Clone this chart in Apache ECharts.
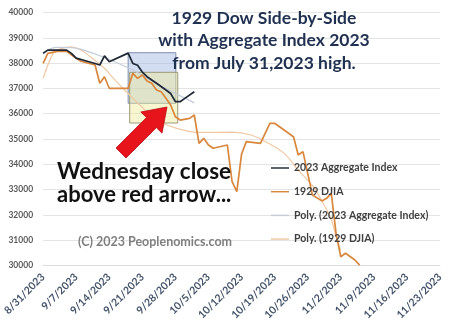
<!DOCTYPE html>
<html><head><meta charset="utf-8">
<script src="https://cdn.jsdelivr.net/npm/echarts@6/dist/echarts.min.js"></script>
<style>html,body{margin:0;padding:0;background:#fff}#c{width:450px;height:326px}</style>
</head><body><div id="c"></div>
<script>
const tickLabels = ['8/31/2023','9/7/2023','9/14/2023','9/21/2023','9/28/2023','10/5/2023','10/12/2023','10/19/2023','10/26/2023','11/2/2023','11/9/2023','11/16/2023','11/23/2023'];

const dates2023 = ['2023-08-31','2023-09-01','2023-09-05','2023-09-06','2023-09-07','2023-09-11','2023-09-12','2023-09-13','2023-09-14','2023-09-18','2023-09-19','2023-09-20','2023-09-21','2023-09-22','2023-09-24','2023-09-26','2023-09-27','2023-09-28','2023-09-29','2023-09-30','2023-10-02'];
const aggregate2023 = [38390,38520,38520,38390,38200,37990,37930,38290,38060,38400,37990,37920,37650,37466,37205,36940,36800,36477,36477,36610,36873];

const dates1929 = ['2023-08-31','2023-09-01','2023-09-03','2023-09-05','2023-09-07','2023-09-08','2023-09-11','2023-09-12','2023-09-13','2023-09-14','2023-09-18','2023-09-19','2023-09-20','2023-09-21','2023-09-22','2023-09-23','2023-09-24','2023-09-25','2023-09-26','2023-09-27','2023-09-28','2023-09-29','2023-10-01','2023-10-02','2023-10-03','2023-10-04','2023-10-05','2023-10-06','2023-10-09','2023-10-10','2023-10-11','2023-10-12','2023-10-13','2023-10-16','2023-10-18','2023-10-19','2023-10-23','2023-10-24','2023-10-25','2023-10-27','2023-10-29','2023-10-30','2023-10-31','2023-11-01','2023-11-02','2023-11-03','2023-11-05','2023-11-06'];
const djia1929 = [37997,38393,38470,38470,38195,38080,37930,37205,37466,37007,37007,37600,37400,37533,37300,37205,36940,36873,36610,36346,35883,35750,35816,35950,34830,35028,34763,34632,34763,33310,32914,34394,34896,34830,35621,35621,35090,34366,34500,32780,32550,32650,32850,31267,30340,30475,30210,30010];

const polyDates2023 = ['2023-08-31','2023-09-03','2023-09-06','2023-09-10','2023-09-14','2023-09-18','2023-09-22','2023-09-26','2023-09-30','2023-10-02'];
const poly2023 = [38420,38630,38620,38430,38150,37820,37420,37000,36620,36430];

const polyDates1929 = ['2023-08-31','2023-09-02','2023-09-03','2023-09-05','2023-09-06','2023-09-08','2023-09-10','2023-09-13','2023-09-15','2023-09-18','2023-09-21','2023-09-24','2023-09-28','2023-10-03','2023-10-10','2023-10-14','2023-10-17','2023-10-21','2023-10-24','2023-10-27','2023-10-29','2023-10-31','2023-11-01','2023-11-02'];
const poly1929 = [37400,38350,38520,38630,38650,38520,38260,37800,37380,36800,36250,35750,35440,35260,35270,35160,34900,34430,33770,33150,32550,31800,31130,30600];

const seriesNames = ['2023 Aggregate Index','1929 DJIA','Poly. (2023 Aggregate Index)','Poly. (1929 DJIA)'];

const origin = Date.UTC(2023,7,31);
function dayOf(s){ return (Date.parse(s+'T00:00:00Z')-origin)/86400000; }
function pairs(ds, vs){ return ds.map((d,i)=>[dayOf(d), vs[i]]); }

const chart = echarts.init(document.getElementById('c'), null, {renderer:'canvas'});
const F = 'Lato, "Noto Sans", sans-serif';
const lineIcon = 'path://M0 0H20V1.6H0Z';

chart.setOption({
  animation:false,
  backgroundColor:'#fff',
  grid:{left:40,right:10,top:12.7,bottom:60.7},
  xAxis:{type:'value',min:0,max:84,interval:7,
    axisLine:{show:true,lineStyle:{color:'#dcdcdc'}},axisTick:{show:false},splitLine:{show:false},
    axisLabel:{rotate:45,margin:10,fontFamily:F,fontSize:10.5,fontWeight:'bold',color:'#44546a',
      showMinLabel:true,showMaxLabel:true,
      formatter:v=>tickLabels[Math.round(v/7)]}},
  yAxis:{type:'value',min:30000,max:40000,interval:1000,
    axisLine:{show:false},axisTick:{show:false},
    splitLine:{lineStyle:{color:'#e4e4e4'}},
    axisLabel:{margin:10,fontFamily:F,fontSize:8.5,fontWeight:'bold',color:'#595959',
      showMinLabel:true,showMaxLabel:true,formatter:v=>String(v)}},
  legend:{orient:'vertical',left:266,top:157.5,itemWidth:18,itemHeight:14,itemGap:12.7,icon:lineIcon,
    data:seriesNames,
    textStyle:{fontFamily:F,fontSize:10.5,fontWeight:'bold',color:'#404040'}},
  series:[
    {name:seriesNames[3],type:'line',data:pairs(polyDates1929,poly1929),smooth:0.4,symbol:'none',
      color:'#f0c9a4',lineStyle:{width:1.2,color:'#f0c9a4'},z:1},
    {name:seriesNames[2],type:'line',data:pairs(polyDates2023,poly2023),smooth:0.4,symbol:'none',
      color:'#c4ccd8',lineStyle:{width:1.2,color:'#c4ccd8'},z:1},
    {name:seriesNames[1],type:'line',data:pairs(dates1929,djia1929),symbol:'none',
      color:'#d8873c',lineStyle:{width:1.7,color:'#d8873c'},z:2},
    {name:seriesNames[0],type:'line',data:pairs(dates2023,aggregate2023),symbol:'none',
      color:'#1e2733',lineStyle:{width:1.7,color:'#1e2733'},z:3,
      markArea:{silent:true,data:[
        [{xAxis:18.0,yAxis:38416,itemStyle:{color:'rgba(150,175,225,0.42)',borderColor:'#7f90b0',borderWidth:1}},{xAxis:28.1,yAxis:36413}],
        [{xAxis:18.33,yAxis:37640,itemStyle:{color:'rgba(238,236,150,0.45)',borderColor:'#9a9a78',borderWidth:1}},{xAxis:28.5,yAxis:35633}]
      ]}}
  ],
  graphic:[
    {type:'text',style:{x:264,y:18.3,text:'1929 Dow Side-by-Side',textAlign:'center',textVerticalAlign:'middle',font:'bold 17.5px '+F,fill:'#1f3050'},z:20},
    {type:'text',style:{x:264,y:40.7,text:'with Aggregate Index 2023',textAlign:'center',textVerticalAlign:'middle',font:'bold 17.5px '+F,fill:'#1f3050'},z:20},
    {type:'text',style:{x:264,y:63.3,text:'from July 31,2023 high.',textAlign:'center',textVerticalAlign:'middle',font:'bold 17.5px '+F,fill:'#1f3050'},z:20},
    {type:'text',style:{x:57,y:172,text:'Wednesday close',textAlign:'left',textVerticalAlign:'middle',font:'bold 22.5px '+F,fill:'#111'},z:20},
    {type:'text',style:{x:57,y:195,text:'above red arrow...',textAlign:'left',textVerticalAlign:'middle',font:'bold 22px '+F,fill:'#111'},z:20},
    {type:'text',style:{x:78,y:242,text:'(C) 2023 Peoplenomics.com',textAlign:'left',textVerticalAlign:'middle',font:'bold 12.5px '+F,fill:'#7f7f7f'},z:20},
    {type:'polygon',shape:{points:[[116,148],[146.5,117.6],[140.8,112],[167,107],[162,133.2],[156.4,127.6],[126,158]]},
      style:{fill:'#e8141c',stroke:'#b80c12',lineWidth:0.8},z:25}
  ]
});
</script></body></html>
